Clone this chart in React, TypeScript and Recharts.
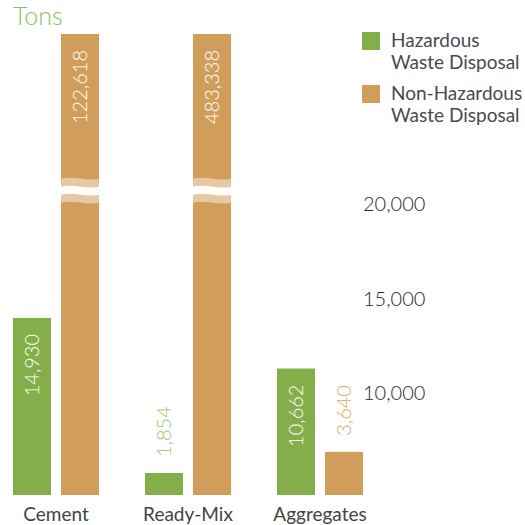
import React from "react";
import { BarChart, Bar, XAxis, YAxis, Legend, LabelList } from "recharts";

const categories = ["Cement", "Ready-Mix", "Aggregates"];
const hazardous = [14930, 1854, 10662];
const nonHazardous = [122618, 483338, 3640];
const axisTicks = [10000, 15000, 20000];
const seriesNames = ["Hazardous Waste Disposal", "Non-Hazardous Waste Disposal"];

const data = categories.map((name, i) => ({
  name,
  hazardous: hazardous[i],
  nonHazardous: nonHazardous[i],
}));

const GREEN = "#84ae4a";
const TAN = "#d09e5a";
const TEXT = "#3a3a3a";
const FONT = "Lato, 'Open Sans', sans-serif";
const PLOT_TOP = 34;

const fmt = (v: number) => Number(v).toLocaleString("en-US");

// wavy band across a bar, used for the axis break
const wave = (x: number, w: number, y0: number, t: number, a: number) =>
  `M${x},${y0} C${x + w / 3},${y0 - a} ${x + (2 * w) / 3},${y0 + a} ${x + w},${y0} ` +
  `L${x + w},${y0 + t} C${x + (2 * w) / 3},${y0 + t + a} ${x + w / 3},${y0 + t - a} ${x},${y0 + t} Z`;

const BrokenBar = (props: any) => {
  const { x, y, width, height, fill, background } = props;
  const top = background ? background.y : PLOT_TOP;
  const bottom = y + height;
  const yy = Math.max(y, top);
  const rect = <rect x={x} y={yy} width={width} height={Math.max(0, bottom - yy)} fill={fill} />;
  if (y >= top) return rect;
  const plotH = background ? background.height : bottom - top;
  const by = top + plotH * 0.34;
  return (
    <g>
      {rect}
      <path d={wave(x, width, by - 12, 24, 3)} fill="#e6c9a2" />
      <path d={wave(x, width, by - 4, 8, 3)} fill="#ffffff" />
    </g>
  );
};

const makeLabel = (color: string) => (props: any) => {
  const vb = props.viewBox || props;
  const { x, y, width, height } = vb;
  const top = Math.max(y, PLOT_TOP);
  const h = y + height - top;
  const cx = x + width / 2;
  const inside = h > 90;
  const ty = inside ? top + 16 : top - 16;
  return (
    <text
      transform={`translate(${cx},${ty}) rotate(-90)`}
      textAnchor={inside ? "end" : "start"}
      dy="0.35em"
      fill={inside ? "#ffffff" : color}
      fontSize={20}
      fontWeight={300}
      fontFamily={FONT}
    >
      {fmt(props.value)}
    </text>
  );
};

const RightTick = (props: any) => (
  <text
    x={props.x - 23}
    y={props.y}
    dy="0.35em"
    textAnchor="start"
    fontSize={20}
    fontWeight={300}
    fill="#2a2a2a"
    fontFamily={FONT}
  >
    {fmt(props.payload.value)}
  </text>
);

const LegendContent = (props: any) => {
  const items = props.payload || [];
  return (
    <div style={{ fontFamily: FONT }}>
      {items.map((it: any) => {
        const name = String(it.value);
        const sp = name.indexOf(" ");
        return (
          <div key={name} style={{ display: "flex", alignItems: "flex-start", marginBottom: 9 }}>
            <div style={{ width: 18, height: 18, marginTop: 3, background: it.color, flex: "none" }} />
            <div
              style={{
                marginLeft: 11,
                fontSize: 19,
                lineHeight: "22px",
                color: "#4a4a4a",
                whiteSpace: "nowrap",
              }}
            >
              <div>{name.slice(0, sp)}</div>
              <div>{name.slice(sp + 1)}</div>
            </div>
          </div>
        );
      })}
    </div>
  );
};

export default function App() {
  return (
    <div style={{ position: "absolute", left: -10, top: 0, width: 535, height: 525, fontFamily: FONT }}>
      <div
        style={{
          position: "absolute",
          left: 23,
          top: 3,
          fontSize: 25,
          lineHeight: 1,
          fontWeight: 300,
          color: "#8cbf62",
        }}
      >
        Tons
      </div>
      <BarChart
        width={535}
        height={525}
        data={data}
        margin={{ top: PLOT_TOP, right: 0, bottom: 0, left: 0 }}
        barCategoryGap={23}
        barGap={10}
      >
        <XAxis
          dataKey="name"
          height={30}
          axisLine={false}
          tickLine={false}
          tickSize={0}
          tickMargin={13}
          tick={{ fontSize: 19, fill: "#444444", fontFamily: FONT }}
        />
        <YAxis yAxisId="bars" hide type="number" domain={[0, 38870]} allowDataOverflow />
        <YAxis
          yAxisId="ticks"
          orientation="right"
          type="number"
          width={139}
          domain={[4603, 28995]}
          allowDataOverflow
          ticks={axisTicks}
          axisLine={false}
          tickLine={false}
          tickSize={0}
          tickMargin={0}
          tick={<RightTick />}
        />
        <Legend
          layout="vertical"
          align="center"
          verticalAlign="middle"
          wrapperStyle={{ left: 372, top: 29, width: 163 }}
          content={<LegendContent />}
        />
        <Bar
          yAxisId="bars"
          dataKey="hazardous"
          name={seriesNames[0]}
          fill={GREEN}
          shape={<BrokenBar />}
          isAnimationActive={false}
        >
          <LabelList dataKey="hazardous" content={makeLabel("#9cc46e")} />
        </Bar>
        <Bar
          yAxisId="bars"
          dataKey="nonHazardous"
          name={seriesNames[1]}
          fill={TAN}
          shape={<BrokenBar />}
          isAnimationActive={false}
        >
          <LabelList dataKey="nonHazardous" content={makeLabel("#e0a962")} />
        </Bar>
      </BarChart>
    </div>
  );
}
